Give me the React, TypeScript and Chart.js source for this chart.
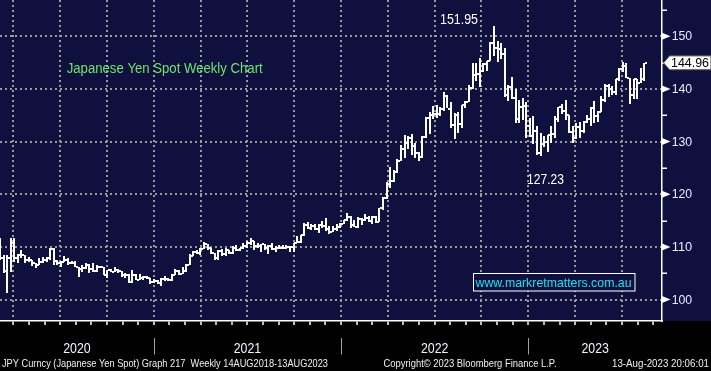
import React, { useEffect, useRef } from "react";
import { Chart, registerables } from "chart.js";

Chart.register(...registerables);

// Weekly bars (week ending Friday), first bar = week ending 28-Feb-2020
const FIRST_WEEK = "2020-02-28";

const opens = [
  111.6, 107.9, 105.4, 107.9, 110.8, 107.9, 108.5, 108.5, 107.5, 107.5,
  106.9, 106.6, 107.1, 107.6, 107.8, 109.6, 107.4, 106.9, 107.2, 107.5,
  106.9, 107.0, 106.1, 105.8, 105.9, 106.6, 105.8, 105.4, 106.2, 106.1,
  104.6, 105.6, 105.3, 105.6, 105.4, 104.7, 104.6, 103.4, 104.6, 103.8,
  104.1, 104.2, 104.0, 103.3, 103.6, 103.2, 103.9, 103.9, 103.8, 104.7,
  105.4, 104.9, 105.4, 106.6, 108.3, 109.0, 108.9, 109.6, 110.6, 109.7,
  108.8, 107.9, 109.3, 108.6, 109.4, 108.9, 109.8, 109.5, 109.7, 110.2,
  110.8, 111.1, 110.1, 110.1, 110.5, 109.7, 110.2, 109.6, 109.8, 109.8,
  109.7, 109.9, 109.9, 110.7, 111.0, 112.2, 114.2, 113.5, 114.0, 113.4,
  114.1, 114.0, 113.4, 112.8, 113.4, 113.7, 114.4, 115.1, 115.6, 114.2,
  113.7, 115.3, 115.2, 115.4, 115.0, 115.6, 114.8, 117.3, 119.2, 122.0,
  122.5, 124.3, 126.4, 128.5, 129.7, 130.6, 129.2, 127.9, 127.1, 130.9,
  134.4, 135.0, 135.2, 135.2, 136.1, 138.6, 136.1, 133.2, 135.0, 133.4,
  137.0, 137.6, 140.2, 142.6, 142.9, 143.4, 144.7, 145.3, 148.7, 147.7,
  147.5, 146.6, 138.8, 140.4, 138.3, 134.3, 136.6, 136.7, 132.9, 131.1,
  132.1, 127.9, 129.6, 129.9, 131.2, 131.4, 134.2, 136.5, 135.9, 135.0,
  131.8, 130.7, 132.8, 132.1, 133.8, 134.2, 136.3, 134.8, 135.7, 137.9,
  140.6, 139.9, 139.4, 141.8, 143.7, 144.3, 142.1, 138.8, 141.8, 141.2,
  141.8,
];

const highs = [
  111.7, 108.5, 108.5, 111.6, 111.7, 108.7, 109.4, 108.5, 108.0, 107.6,
  107.0, 107.8, 108.1, 108.0, 109.85, 109.7, 107.6, 107.4, 108.2, 107.8,
  107.4, 107.4, 106.1, 106.5, 107.0, 106.7, 106.9, 106.5, 106.4, 106.1,
  105.7, 105.8, 106.1, 105.8, 105.5, 105.0, 104.9, 105.65, 104.8, 104.8,
  104.5, 104.4, 104.1, 103.9, 103.7, 104.1, 104.4, 104.1, 104.9, 105.8,
  105.6, 106.2, 106.7, 108.6, 109.2, 109.4, 109.85, 110.97, 110.6, 109.8,
  108.9, 109.4, 109.6, 109.8, 109.5, 110.2, 110.3, 109.8, 110.8, 111.1,
  111.66, 111.2, 110.7, 110.6, 110.6, 110.3, 110.8, 110.2, 110.3, 110.4,
  110.4, 110.1, 110.8, 112.1, 112.2, 114.45, 114.7, 114.3, 114.4, 114.3,
  114.9, 115.5, 113.9, 113.9, 114.3, 114.5, 115.2, 116.35, 115.8, 115.1,
  115.7, 115.5, 116.3, 115.9, 115.8, 115.8, 117.3, 119.4, 122.4, 125.1,
  124.7, 126.7, 129.4, 131.25, 131.0, 131.35, 129.8, 128.1, 131.0, 134.6,
  135.6, 136.7, 137.0, 136.5, 139.4, 138.9, 137.5, 135.5, 135.6, 137.0,
  137.7, 140.8, 145.0, 144.9, 145.9, 144.9, 145.4, 148.9, 151.95, 149.1,
  148.8, 147.7, 140.8, 142.2, 139.9, 137.9, 138.2, 137.5, 134.5, 134.8,
  132.9, 131.6, 131.1, 131.2, 132.9, 134.8, 136.5, 137.1, 137.9, 135.1,
  133.0, 133.6, 133.8, 134.0, 135.1, 136.6, 137.8, 135.8, 138.75, 140.9,
  140.9, 140.5, 141.9, 143.9, 145.07, 144.9, 142.1, 141.95, 141.9, 143.9,
  145.0,
];

const lows = [
  107.5, 105.0, 101.2, 105.2, 107.2, 106.9, 107.8, 106.9, 107.2, 106.4,
  106.0, 106.6, 107.0, 107.1, 107.6, 106.6, 106.6, 106.1, 107.2, 106.6,
  106.7, 106.1, 104.2, 105.3, 105.8, 105.1, 105.2, 105.2, 105.9, 104.6,
  104.0, 105.2, 105.2, 105.0, 104.3, 104.0, 103.2, 103.2, 103.7, 103.8,
  103.7, 103.9, 102.9, 103.2, 102.95, 102.6, 103.5, 103.5, 103.6, 104.6,
  104.6, 104.9, 105.2, 106.5, 108.3, 108.6, 108.4, 109.6, 109.4, 108.6,
  107.5, 107.6, 108.3, 108.3, 108.6, 108.6, 109.3, 109.2, 109.6, 109.7,
  110.4, 109.5, 109.8, 109.1, 109.4, 108.7, 109.5, 109.1, 109.6, 109.6,
  109.6, 109.1, 109.1, 110.7, 110.8, 112.1, 113.4, 113.3, 113.3, 112.7,
  113.6, 113.1, 112.5, 112.8, 113.1, 113.5, 114.3, 115.0, 113.5, 113.8,
  113.5, 114.2, 115.0, 114.7, 114.4, 114.6, 114.8, 117.0, 119.1, 121.2,
  122.4, 124.1, 126.3, 126.9, 128.6, 127.5, 126.95, 126.4, 126.9, 130.6,
  131.5, 134.3, 134.5, 134.8, 135.9, 136.4, 132.5, 130.4, 131.7, 132.6,
  136.3, 137.6, 140.0, 141.5, 140.3, 143.3, 143.5, 145.3, 146.2, 145.1,
  145.7, 138.5, 137.7, 138.1, 133.6, 133.6, 134.1, 130.6, 130.8, 129.5,
  127.5, 127.23, 129.0, 128.1, 129.8, 130.6, 133.8, 135.3, 134.1, 131.6,
  129.8, 130.4, 130.6, 131.6, 133.6, 133.0, 133.5, 133.7, 135.6, 137.6,
  138.4, 138.8, 138.9, 141.6, 143.3, 142.1, 137.2, 138.0, 138.05, 141.2,
  141.5,
];

const closes = [
  107.9, 105.4, 107.9, 110.8, 107.9, 108.5, 108.5, 107.5, 107.5, 106.9,
  106.6, 107.1, 107.6, 107.8, 109.6, 107.4, 106.9, 107.2, 107.5, 106.9,
  107.0, 106.1, 105.8, 105.9, 106.6, 105.8, 105.4, 106.2, 106.1, 104.6,
  105.6, 105.3, 105.6, 105.4, 104.7, 104.6, 103.4, 104.6, 103.8, 104.1,
  104.2, 104.0, 103.3, 103.6, 103.2, 103.9, 103.9, 103.8, 104.7, 105.4,
  104.9, 105.4, 106.6, 108.3, 109.0, 108.9, 109.6, 110.6, 109.7, 108.8,
  107.9, 109.3, 108.6, 109.4, 108.9, 109.8, 109.5, 109.7, 110.2, 110.8,
  111.1, 110.1, 110.1, 110.5, 109.7, 110.2, 109.6, 109.8, 109.8, 109.7,
  109.9, 109.9, 110.7, 111.0, 112.2, 114.2, 113.5, 114.0, 113.4, 114.1,
  114.0, 113.4, 112.8, 113.4, 113.7, 114.4, 115.1, 115.6, 114.2, 113.7,
  115.3, 115.2, 115.4, 115.0, 115.6, 114.8, 117.3, 119.2, 122.0, 122.5,
  124.3, 126.4, 128.5, 129.7, 130.6, 129.2, 127.9, 127.1, 130.9, 134.4,
  135.0, 135.2, 135.2, 136.1, 138.6, 136.1, 133.2, 135.0, 133.4, 137.0,
  137.6, 140.2, 142.6, 142.9, 143.4, 144.7, 145.3, 148.7, 147.7, 147.5,
  146.6, 138.8, 140.4, 138.3, 134.3, 136.6, 136.7, 132.9, 131.1, 132.1,
  127.9, 129.6, 129.9, 131.2, 131.4, 134.2, 136.5, 135.9, 135.0, 131.8,
  130.7, 132.8, 132.1, 133.8, 134.2, 136.3, 134.8, 135.7, 137.9, 140.6,
  139.9, 139.4, 141.8, 143.7, 144.3, 142.1, 138.8, 141.8, 141.2, 141.8,
  144.96,
];

const yTicks = [100, 110, 120, 130, 140, 150];
const yMinorTicks = [105, 115, 125, 135, 145, 155];
const yearLabels = ["2020", "2021", "2022", "2023"];
const chartTitle = "Japanese Yen Spot Weekly Chart";
const websiteText = "www.markretmatters.com.au";
const footerLeft = "JPY Curncy (Japanese Yen Spot) Graph 217  Weekly 14AUG2018-13AUG2023";
const footerMid = "Copyright\u00A9 2023 Bloomberg Finance L.P.";
const footerRight = "13-Aug-2023 20:06:01";

// axis geometry (in week-index units / price units)
const X_MIN = 0;
const X_MAX = 184.92;
const Y_MIN = 95.92;
const Y_MAX = 156.9;
const FIRST_QUARTER_LINE = 3.715; // week index of first quarterly gridline (Apr 2020)
const WEEKS_PER_QUARTER = 13.078;
const YEAR_START_QUARTERS = [3, 7, 11]; // gridline numbers that start 2021, 2022, 2023

const NAVY = "#10103f";
const GRID = "#9a9a9a";
const FONT = "'Liberation Sans', Arial, sans-serif";

function weekLabels(): string[] {
  const start = new Date(FIRST_WEEK + "T00:00:00Z").getTime();
  return closes.map((_, i) =>
    new Date(start + i * 7 * 86400000).toISOString().slice(0, 10)
  );
}

function monthTicks(): number[] {
  const out: number[] = [];
  const step = WEEKS_PER_QUARTER / 3;
  for (let v = FIRST_QUARTER_LINE; v <= X_MAX; v += step) out.push(v);
  return out;
}

const ohlcPlugin = {
  id: "ohlcBloomberg",
  beforeDraw(chart: any) {
    const { ctx, chartArea } = chart;
    ctx.save();
    ctx.fillStyle = "#000";
    ctx.fillRect(0, 0, chart.width, chart.height);
    ctx.fillStyle = NAVY;
    ctx.fillRect(0, 0, chart.width, chartArea.bottom);
    ctx.restore();
  },
  afterDatasetsDraw(chart: any) {
    const { ctx, chartArea } = chart;
    const xs = chart.scales.x;
    const ys = chart.scales.y;
    ctx.save();
    ctx.beginPath();
    ctx.rect(chartArea.left, chartArea.top, chartArea.right - chartArea.left, chartArea.bottom - chartArea.top);
    ctx.clip();
    ctx.fillStyle = "#ffffff";
    for (let i = 0; i < closes.length; i++) {
      const xp = Math.round(xs.getPixelForValue(i));
      const yh = Math.round(ys.getPixelForValue(highs[i]));
      const yl = Math.round(ys.getPixelForValue(lows[i]));
      const yo = Math.round(ys.getPixelForValue(opens[i]));
      const yc = Math.round(ys.getPixelForValue(closes[i]));
      ctx.fillRect(xp - 1, yh, 2, Math.max(2, yl - yh));
      ctx.fillRect(xp - 3, yo - 1, 2, 2);
      ctx.fillRect(xp + 1, yc - 1, 2, 2);
    }
    ctx.restore();
  },
  afterDraw(chart: any) {
    const { ctx, chartArea } = chart;
    const xs = chart.scales.x;
    const ys = chart.scales.y;
    ctx.save();

    // right axis: triangles at major ticks, small ticks at minor values, labels
    ctx.fillStyle = "#ffffff";
    ctx.strokeStyle = "#ffffff";
    for (const v of yTicks) {
      const yp = ys.getPixelForValue(v);
      ctx.beginPath();
      ctx.moveTo(chartArea.right, yp - 3.5);
      ctx.lineTo(chartArea.right + 8.5, yp);
      ctx.lineTo(chartArea.right, yp + 3.5);
      ctx.closePath();
      ctx.fill();
    }
    ctx.lineWidth = 1.5;
    for (const v of yMinorTicks) {
      const yp = Math.round(ys.getPixelForValue(v)) + 0.25;
      ctx.beginPath();
      ctx.moveTo(chartArea.right, yp);
      ctx.lineTo(chartArea.right + 5, yp);
      ctx.stroke();
    }
    ctx.fillStyle = "#e6ebff";
    ctx.font = `13px ${FONT}`;
    ctx.textAlign = "left";
    ctx.textBaseline = "middle";
    for (const v of yTicks) {
      ctx.fillText(String(v), chartArea.right + 9.7, ys.getPixelForValue(v) + 0.5, 20.5);
    }

    // last price tag
    const lastIdx = closes.length - 1;
    const yLast = ys.getPixelForValue(closes[lastIdx]);
    const tagL = chartArea.right + 1.5;
    ctx.beginPath();
    ctx.moveTo(tagL, yLast);
    ctx.lineTo(tagL + 6, yLast - 7);
    ctx.lineTo(chart.width, yLast - 7);
    ctx.lineTo(chart.width, yLast + 7);
    ctx.lineTo(tagL + 6, yLast + 7);
    ctx.closePath();
    ctx.fillStyle = "#ffffff";
    ctx.fill();
    ctx.strokeStyle = "#444";
    ctx.lineWidth = 1;
    ctx.stroke();
    ctx.fillStyle = "#000";
    ctx.font = `13px ${FONT}`;
    ctx.textBaseline = "middle";
    ctx.textAlign = "left";
    ctx.fillText(closes[lastIdx].toFixed(2), tagL + 7.5, yLast + 0.5, 38);

    // peak and trough annotations
    let peakIdx = 0;
    for (let i = 1; i < highs.length; i++) if (highs[i] > highs[peakIdx]) peakIdx = i;
    let troughIdx = peakIdx;
    for (let i = peakIdx; i < lows.length; i++) if (lows[i] < lows[troughIdx]) troughIdx = i;
    ctx.fillStyle = "#ffffff";
    ctx.textBaseline = "alphabetic";
    ctx.font = `15px ${FONT}`;
    ctx.textAlign = "right";
    ctx.fillText(highs[peakIdx].toFixed(2), xs.getPixelForValue(peakIdx) - 16, ys.getPixelForValue(highs[peakIdx]) - 2, 38);
    ctx.textAlign = "center";
    ctx.fillText(lows[troughIdx].toFixed(2), xs.getPixelForValue(troughIdx) + 5, ys.getPixelForValue(lows[troughIdx]) + 28, 37);

    // title
    ctx.textAlign = "left";
    ctx.fillStyle = "#6ee36e";
    ctx.font = `14px ${FONT}`;
    ctx.fillText(chartTitle, chartArea.left + 66.7, 73.3, 196);

    // website box
    ctx.fillStyle = NAVY;
    ctx.fillRect(473.5, 273.5, 161.5, 17.5);
    ctx.strokeStyle = "#ffffff";
    ctx.lineWidth = 1;
    ctx.strokeRect(473.5, 273.5, 161.5, 17.5);
    ctx.fillStyle = "#1ee0ee";
    ctx.font = `13px ${FONT}`;
    ctx.fillText(websiteText, 475.5, 287.3, 156);

    // year band below the plot
    const bounds = YEAR_START_QUARTERS.map((k) =>
      xs.getPixelForValue(FIRST_QUARTER_LINE + k * WEEKS_PER_QUARTER)
    );
    const edges = [chartArea.left, ...bounds, chartArea.right];
    ctx.strokeStyle = "#a0a0a0";
    ctx.lineWidth = 1;
    for (const b of bounds) {
      const bx = Math.round(b) + 0.5;
      ctx.beginPath();
      ctx.moveTo(bx, 338);
      ctx.lineTo(bx, 354.5);
      ctx.stroke();
    }
    ctx.fillStyle = "#f2f2ff";
    ctx.font = `15px ${FONT}`;
    ctx.textAlign = "center";
    yearLabels.forEach((lab, i) => {
      ctx.fillText(lab, (edges[i] + edges[i + 1]) / 2, 352.5, 27.5);
    });

    // footer
    ctx.fillStyle = "#f0f0f0";
    ctx.font = `10.5px ${FONT}`;
    ctx.textAlign = "left";
    ctx.fillText(footerLeft, 2, 367, 326);
    ctx.fillText(footerMid, 383.5, 367, 173);
    ctx.fillText(footerRight, 612, 367, 97);

    ctx.restore();
  },
};

export default function App() {
  const ref = useRef<HTMLCanvasElement | null>(null);

  useEffect(() => {
    document.body.style.margin = "0";
    const canvas = ref.current;
    if (!canvas) return;
    const labels = weekLabels();
    const ticksX = monthTicks();
    const chart = new Chart(canvas, {
      type: "line",
      data: {
        datasets: [
          {
            label: "JPY weekly close",
            data: closes.map((c, i) => ({ x: i, y: c, week: labels[i] })) as any,
            showLine: false,
            pointRadius: 0,
            borderWidth: 0,
          },
        ],
      },
      options: {
        animation: false,
        responsive: false,
        devicePixelRatio: 1,
        events: [],
        layout: { padding: 0, autoPadding: false } as any,
        plugins: { legend: { display: false }, tooltip: { enabled: false } },
        scales: {
          x: {
            type: "linear",
            min: X_MIN,
            max: X_MAX,
            afterBuildTicks: (s: any) => {
              s.ticks = ticksX.map((v) => ({ value: v }));
            },
            afterFit: (s: any) => {
              s.height = 50;
            },
            ticks: { display: false },
            grid: {
              color: (c: any) => (c.index % 3 === 0 ? GRID : "rgba(0,0,0,0)"),
              lineWidth: 2,
              drawTicks: true,
              tickLength: 4,
              tickColor: "#ffffff",
              tickWidth: 1.5,
              tickBorderDash: [],
            },
            border: { display: true, color: "#ffffff", width: 1.5, dash: [2, 3] },
          },
          y: {
            type: "linear",
            position: "right",
            min: Y_MIN,
            max: Y_MAX,
            afterBuildTicks: (s: any) => {
              s.ticks = yTicks.map((v) => ({ value: v }));
            },
            afterFit: (s: any) => {
              s.width = 49;
            },
            ticks: { display: false },
            grid: { color: GRID, lineWidth: 2, drawTicks: false },
            border: { display: true, color: "#ffffff", width: 1.5, dash: [2, 3] },
          },
        },
      } as any,
      plugins: [ohlcPlugin],
    });
    return () => chart.destroy();
  }, []);

  return (
    <div style={{ width: 711, height: 371 }}>
      <canvas ref={ref} width={711} height={371} style={{ display: "block", width: 711, height: 371 }} />
    </div>
  );
}
